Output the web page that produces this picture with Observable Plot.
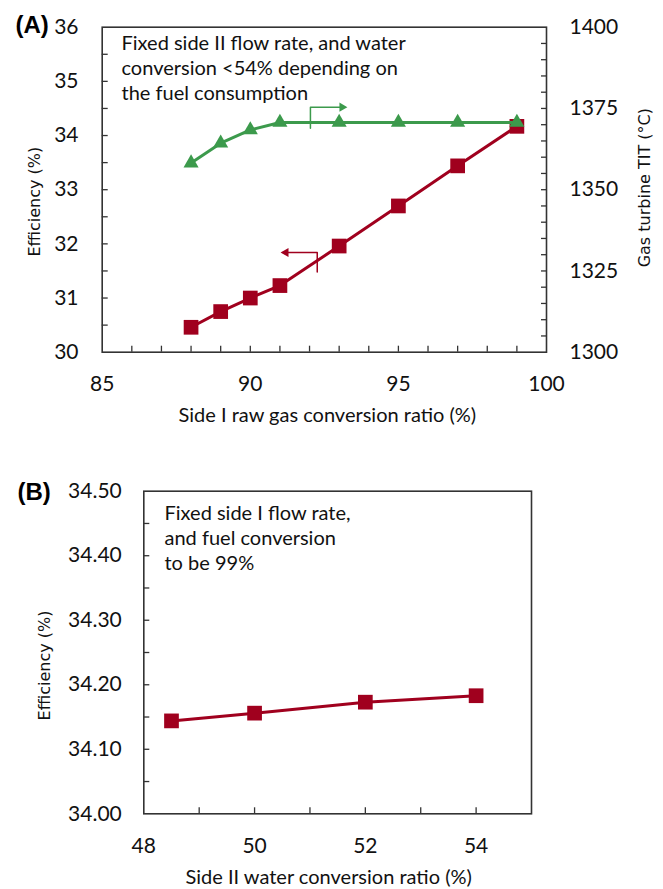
<!DOCTYPE html>
<html><head><meta charset="utf-8">
<script src="https://cdn.jsdelivr.net/npm/d3@7"></script>
<script src="https://cdn.jsdelivr.net/npm/@observablehq/plot@0.6"></script>
<style>
body{margin:0;background:#fff;}
#wrap{position:relative;width:663px;height:889px;background:#fff;overflow:hidden;}
#wrap svg{position:absolute;left:0;}
</style></head><body><div id="wrap"></div>
<script>
// ---------- Panel A data ----------
const convA = [88, 89, 90, 91, 93, 95, 97, 99];
const effA = [30.46, 30.75, 31.00, 31.23, 31.96, 32.70, 33.44, 34.17];
const titA = [1358.2, 1364.3, 1368.4, 1370.7, 1370.7, 1370.7, 1370.7, 1370.7];
const xTicksA = [85, 90, 95, 100];
const effTicksA = [30, 31, 32, 33, 34, 35, 36];
const titTicksA = [1300, 1325, 1350, 1375, 1400];
const noteA = ["Fixed side II flow rate, and water", "conversion <54% depending on", "the fuel consumption"];
const arrowEffX = [92.26, 92.26, 91.1];
const arrowEffY = [31.48, 31.84, 31.84];
const arrowTitX = [92.03, 92.03, 93.2];
const arrowTitY = [1368.9, 1375.4, 1375.4];

// ---------- Panel B data ----------
const convB = [48.5, 50, 52, 54];
const effB = [34.144, 34.156, 34.173, 34.183];
const xTicksB = [48, 50, 52, 54];
const effTicksB = [34.00, 34.10, 34.20, 34.30, 34.40, 34.50];
const noteB = ["Fixed side I flow rate,", "and fuel conversion", "to be 99%"];

const RED = "#A0001E";
const GREEN = "#3C9A4C";
const FRAME = "#333";
const W = 663;
const HA = 445, HB = 444;
const LAB = "Lato, 'Open Sans', sans-serif";
const TITLEF = "'DejaVu Sans', Verdana, sans-serif";
const blank = () => "";
const plain = d => String(d);
const NOTE_FS = 20;

const style = {fontFamily: LAB, fontSize: "21px", color: "#111", background: "transparent", overflow: "visible"};

const dataA = convA.map((x, i) => ({x, eff: effA[i], tit: titA[i]}));
const arrEff = arrowEffX.map((x, i) => ({x, y: arrowEffY[i]}));
const arrTit = arrowTitX.map((x, i) => ({x, y: arrowTitY[i]}));
const dataB = convB.map((x, i) => ({x, eff: effB[i]}));

const marginsA = {marginTop: 26.7, marginBottom: HA - 351.7, marginLeft: 101.7, marginRight: W - 546};

const baseA = Plot.plot({
  width: W, height: HA, ...marginsA, style,
  x: {domain: [85, 100]},
  y: {domain: [30, 36]},
  marks: [
    Plot.axisX(xTicksA, {tickSize: 0, tickPadding: 23.5, label: null, tickFormat: plain}),
    Plot.axisY(effTicksA, {tickSize: 0, tickPadding: 23.7, label: null, tickFormat: plain}),
    Plot.axisX(d3.range(86, 100), {tickSize: 6, dy: -6, stroke: FRAME, strokeWidth: 1.3, tickFormat: blank, label: null}),
    Plot.axisY(d3.range(30.5, 36, 0.5), {tickSize: 6, dx: 6, stroke: FRAME, strokeWidth: 1.3, tickFormat: blank, label: null}),
    Plot.frame({stroke: FRAME, strokeWidth: 1.6}),
    Plot.line(dataA, {x: "x", y: "eff", stroke: RED, strokeWidth: 3}),
    Plot.dot(dataA, {x: "x", y: "eff", symbol: "square", r: 8.3, fill: RED}),
    Plot.line(arrEff, {x: "x", y: "y", stroke: RED, strokeWidth: 1.5}),
    Plot.dot(arrEff.slice(-1), {x: "x", y: "y", symbol: "triangle", rotate: -90, r: 3.4, fill: RED, dx: 3}),
    Plot.text([noteA.join("\n")], {text: d => d, frameAnchor: "top-left", textAnchor: "start", lineAnchor: "top", dx: 19.3, dy: 5.3, lineHeight: 25 / NOTE_FS, fontSize: NOTE_FS, fill: "#111"}),
    Plot.text(["(A)"], {text: d => d, frameAnchor: "top-left", textAnchor: "start", lineAnchor: "middle", dx: -86.7, dy: -1.7, fontSize: 24, fontWeight: "bold", fontFamily: "'Liberation Sans', Arial, sans-serif", fill: "#000"}),
    Plot.text(["Side I raw gas conversion ratio (%)"], {text: d => d, frameAnchor: "bottom", textAnchor: "middle", lineAnchor: "middle", dy: 63.5, dx: 3, fontSize: 20, fill: "#111"}),
    Plot.text(["Efficiency (%)"], {text: d => d, frameAnchor: "left", rotate: -90, textAnchor: "middle", lineAnchor: "middle", dx: -67.7, dy: 12, fontSize: 16, fontFamily: TITLEF, fill: "#111"})
  ]
});
baseA.style.top = "0px";

const overA = Plot.plot({
  width: W, height: HA, ...marginsA, style,
  x: {domain: [85, 100], axis: null},
  y: {domain: [1300, 1400]},
  marks: [
    Plot.axisY(titTicksA, {anchor: "right", tickSize: 0, tickPadding: 23, label: null, tickFormat: plain}),
    Plot.axisY(d3.range(1305, 1400, 5), {anchor: "right", tickSize: 6, dx: -6, stroke: FRAME, strokeWidth: 1.3, tickFormat: blank, label: null}),
    Plot.line(dataA, {x: "x", y: "tit", stroke: GREEN, strokeWidth: 3}),
    Plot.dot(dataA, {x: "x", y: "tit", symbol: "triangle", r: 5.6, fill: GREEN}),
    Plot.line(arrTit, {x: "x", y: "y", stroke: GREEN, strokeWidth: 1.5}),
    Plot.dot(arrTit.slice(-1), {x: "x", y: "y", symbol: "triangle", rotate: 90, r: 3.4, fill: GREEN, dx: -3}),
    Plot.text(["Gas turbine TIT (°C)"], {text: d => d, frameAnchor: "right", rotate: -90, textAnchor: "middle", lineAnchor: "middle", dx: 98, dy: -2, fontSize: 16, fontFamily: TITLEF, fill: "#111"})
  ]
});
overA.style.top = "0px";

const marginsB = {marginTop: 490.7 - HA, marginBottom: HB - (813.3 - HA), marginLeft: 143.3, marginRight: W - 531};

const plotB = Plot.plot({
  width: W, height: HB, ...marginsB, style,
  x: {domain: [48, 55]},
  y: {domain: [34.0, 34.5]},
  marks: [
    Plot.axisX(xTicksB, {tickSize: 0, tickPadding: 24.2, label: null, tickFormat: plain}),
    Plot.axisY(effTicksB, {tickSize: 0, tickPadding: 22, label: null, tickFormat: d => d.toFixed(2)}),
    Plot.axisX(d3.range(49, 55), {tickSize: 6, dy: -6, stroke: FRAME, strokeWidth: 1.3, tickFormat: blank, label: null}),
    Plot.axisY(d3.range(34.05, 34.49, 0.05), {tickSize: 6, dx: 6, stroke: FRAME, strokeWidth: 1.3, tickFormat: blank, label: null}),
    Plot.frame({stroke: FRAME, strokeWidth: 1.6}),
    Plot.line(dataB, {x: "x", y: "eff", stroke: RED, strokeWidth: 3}),
    Plot.dot(dataB, {x: "x", y: "eff", symbol: "square", r: 8.3, fill: RED}),
    Plot.text([noteB.join("\n")], {text: d => d, frameAnchor: "top-left", textAnchor: "start", lineAnchor: "top", dx: 20.7, dy: 11.3, lineHeight: 25 / NOTE_FS, fontSize: NOTE_FS, fill: "#111"}),
    Plot.text(["(B)"], {text: d => d, frameAnchor: "top-left", textAnchor: "start", lineAnchor: "middle", dx: -126.3, dy: 1.3, fontSize: 24, fontWeight: "bold", fontFamily: "'Liberation Sans', Arial, sans-serif", fill: "#000"}),
    Plot.text(["Side II water conversion ratio (%)"], {text: d => d, frameAnchor: "bottom", textAnchor: "middle", lineAnchor: "middle", dy: 63.7, dx: -9, fontSize: 20, fill: "#111"}),
    Plot.text(["Efficiency (%)"], {text: d => d, frameAnchor: "left", rotate: -90, textAnchor: "middle", lineAnchor: "middle", dx: -98.7, dy: 13, fontSize: 16, fontFamily: TITLEF, fill: "#111"})
  ]
});
plotB.style.top = HA + "px";

const wrap = document.getElementById("wrap");
wrap.appendChild(baseA);
wrap.appendChild(overA);
wrap.appendChild(plotB);
</script>
</body></html>
